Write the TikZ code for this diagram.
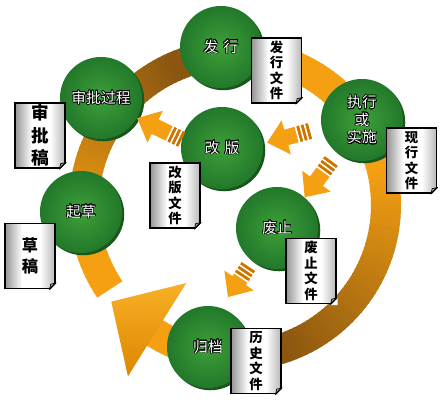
\documentclass[tikz,border=0pt]{standalone}
\usepackage{fontspec}
\newfontfamily\cjk{Noto Sans CJK SC}
\usepackage{contour}
\contourlength{0.5pt}
\usepackage{tikz}
\usetikzlibrary{shadows}
\usetikzlibrary{arrows.meta}
\definecolor{ringlight}{HTML}{F4A012}
\definecolor{ringdark}{HTML}{8A5610}
\definecolor{headtop}{HTML}{F8B026}
\definecolor{headbot}{HTML}{DD8600}
\definecolor{stripecol}{HTML}{CC7400}
\definecolor{stagelight}{HTML}{3DA039}
\definecolor{stageedge}{HTML}{22782A}
\definecolor{stagerim}{HTML}{1A561C}
\pgfdeclarehorizontalshading{docshade}{100bp}{color(0bp)=(black!42); color(25bp)=(black!42);
    color(42bp)=(white); color(60bp)=(white); color(75bp)=(black!28); color(100bp)=(black!28)}
\newcommand{\wt}[1]{\contour{black}{#1}}

\begin{document}
\begin{tikzpicture}[x=0.025cm, y=-0.025cm,
    ring/.style={line width=0.75cm},
    stage/.style={circle, minimum size=2.05cm, inner sep=0pt, shading=radial,
        inner color=stagelight, outer color=stageedge, text=white, align=center,
        font=\cjk\fontsize{10.5}{12.5}\selectfont,
        drop shadow={fill=stagerim, opacity=1, shadow xshift=1.6pt, shadow yshift=-1.6pt}},
    doc/.style={rectangle, draw=black, line width=0.9pt, minimum width=1.25cm,
        minimum height=1.625cm, inner sep=0pt, shading=docshade, align=center,
        font=\cjk\bfseries\fontsize{9.5}{11}\selectfont},
    flow/.style={draw=ringlight, line width=0.4cm,
        dash pattern=on 0.065cm off 0.05cm on 0.065cm off 0.05cm on 0.065cm off 0.05cm on 5cm,
        -{Triangle[length=0.5cm, width=0.85cm]},
        postaction={draw=stripecol, -,
            dash pattern=on 0.065cm off 0.05cm on 0.065cm off 0.05cm on 0.065cm off 10cm}}]
    \useasboundingbox (0,0) rectangle (440,401);

    % Ring
    \coordinate (ctr) at (235,205);
    \foreach \a in {146,148,...,266}{
        \pgfmathtruncatemacro\m{min(100,max(0,(\a-170)*100/75))}
        \draw[ring, ringdark!\m!ringlight] (ctr) ++(\a:151) arc[start angle=\a, delta angle=2.6, radius=151];
    }
    \foreach \a in {262,264,...,470}{
        \pgfmathtruncatemacro\m{min(100,max(0,(\a-345)*100/85))}
        \draw[ring, ringdark!\m!ringlight] (ctr) ++(\a:151) arc[start angle=\a, delta angle=2.6, radius=151];
    }
    \foreach \a in {456,458,...,480}{
        \draw[ring, ringlight] (ctr) ++(\a:151) arc[start angle=\a, delta angle=2.6, radius=151];
    }
    \shade[top color=headtop, bottom color=headbot] ([shift={(122:92)}]ctr) -- ([shift={(122:202)}]ctr)
        -- ([shift={(142:157)}]ctr) -- cycle;

    % Stages
    \node[stage] (fx) at (221,47) {\wt{发\hspace{0.35em}行}};
    \node[stage] (sp) at (101,98) {\wt{审批过程}};
    \node[stage] (qc) at (81,212) {\wt{起草}};
    \node[stage] (gb) at (222,148) {\wt{改\hspace{0.35em}版}};
    \node[stage] (zs) at (362,120) {\wt{执行}\\\wt{或}\\\wt{实施}};
    \node[stage] (fz) at (277,228) {\wt{废止}};
    \node[stage] (gd) at (208,347) {\wt{归档}};

    % Small arrows
    \draw[flow] (gb.168) -- (sp.331);
    \draw[flow, shorten <=0.3cm, shorten >=0.1cm] (zs.191) -- (gb.6);
    \draw[flow, shorten <=0.25cm] (zs.233) -- (fz.48);
    \draw[flow, shorten <=0.17cm, shorten >=0.32cm] (fz.233) -- (gd.72);

    % Documents
    \node[doc, font=\cjk\bfseries\fontsize{12.5}{16}\selectfont] (dsp) at (40,135.5) {审\\批\\稿};
    \node[doc] (dfx) at (276.5,70.5) {发\\行\\文\\件};
    \node[doc] (dgb) at (175,195.5) {改\\版\\文\\件};
    \node[doc] (dzs) at (411.5,160.5) {现\\行\\文\\件};
    \node[doc, font=\cjk\bfseries\fontsize{11.5}{15}\selectfont] (dqc) at (30,256) {草\\稿};
    \node[doc] (dfz) at (311,271) {废\\止\\文\\件};
    \node[doc] (dgd) at (256,361) {历\\史\\文\\件};
    \foreach \d in {dsp,dfx,dgb,dzs,dqc,dfz,dgd}{
        \fill[white] ([shift={(-7,1)}]\d.south east) -- ([shift={(1,1)}]\d.south east)
            -- ([shift={(1,-7)}]\d.south east) -- cycle;
        \filldraw[fill=black!35, line width=0.5pt] ([shift={(-6,0)}]\d.south east)
            -- ([shift={(-5,-5)}]\d.south east) -- ([shift={(0,-6)}]\d.south east) -- cycle;
        \draw[line width=0.9pt] ([shift={(-6,0)}]\d.south east) -- ([shift={(0,-6)}]\d.south east);
    }
\end{tikzpicture}
\end{document}
